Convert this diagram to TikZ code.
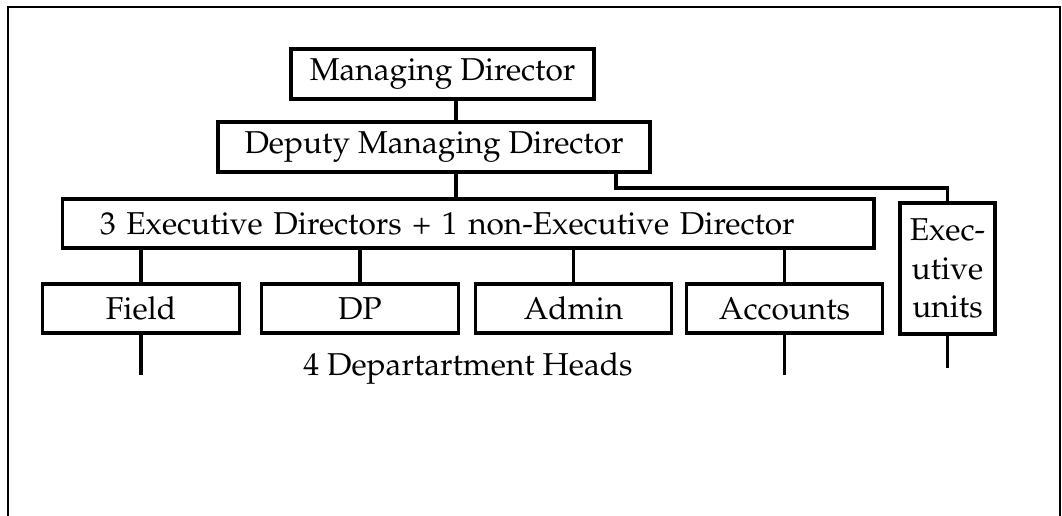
\documentclass[tikz,border=0pt]{standalone}
\usepackage[T1]{fontenc}
\usepackage{mathpazo}
\usepackage{tikz}
\usetikzlibrary{positioning}

\begin{document}
\begin{tikzpicture}[
  x=0.02cm, y=-0.02cm,
  post/.style={
    rectangle, draw=black, line width=1.8pt,
    inner sep=0pt, align=center,
    font=\fontsize{18}{22.1}\selectfont
  },
  dept/.style={post, minimum width=3.93cm, minimum height=0.98cm},
  link/.style={line width=1.8pt},
  frame/.style={line width=1.1pt}
]
  \useasboundingbox (0,0) rectangle (1062,516);

  % Open frame around the chart
  \draw[frame] (8,516) -- (8,7) -- (1060,7) -- (1060,516);

  % Board level
  \node[post, minimum width=6.06cm, minimum height=1.0cm] (md) at (442.5,74) {Managing Director};
  \node[post, minimum width=8.64cm, minimum height=1.0cm] (dmd) at (434,147) {Deputy Managing Director};
  \node[post, minimum height=0.98cm, text width=14.72cm, inner xsep=0.76cm, align=left]
        (exd) at (468,223.5) {3 Executive Directors + 1 non-Executive Director};
  \node[post, minimum width=1.9cm, minimum height=2.62cm] (exu) at (947.5,268.5) {Exec-\\utive\\units};

  % Departments
  \node[dept] (field)    at (141,308.5)   {Field};
  \node[dept] (dp)       at (360,308.5)   {DP};
  \node[dept] (admin)    at (573.5,308.5) {Admin};
  \node[dept] (accounts) at (784.5,308.5) {Accounts};

  \node[font=\fontsize{18}{22.1}\selectfont, anchor=base] (heads) at (468,376) {4 Departartment Heads};

  % Lines of command
  \coordinate (spine) at (456,0);
  \coordinate (tap) at (616,188);
  \draw[link] (md.south -| spine) -- (dmd.north -| spine);
  \draw[link] (dmd.south -| spine) -- (exd.north -| spine);
  \draw[link] (dmd.south -| tap) -- (tap) -| (exu.north);
  \foreach \d in {field, dp, admin, accounts}
    \draw[link] (exd.south -| \d.north) -- (\d.north);

  % Stubs below
  \draw[link] (field.south) -- ++(0,40);
  \draw[link] (accounts.south) -- ++(0,40);
  \draw[link] (exu.south) -- ++(0,32);
\end{tikzpicture}
\end{document}
